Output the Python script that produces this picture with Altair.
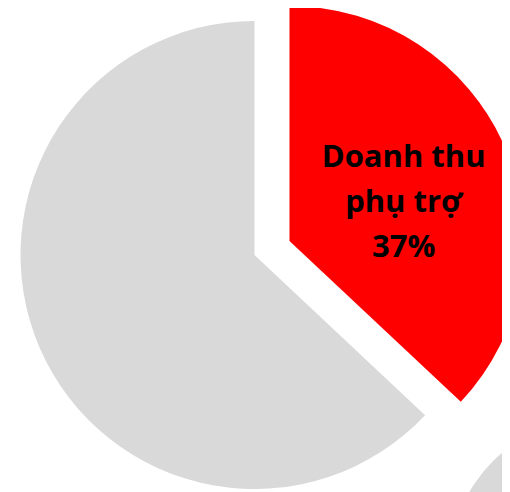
import altair as alt
import pandas as pd

# Data
categories = ["Doanh thu\nphụ trợ", "Khác"]
values = [37, 63]
order = [0, 1]
colors = ["#FF0000", "#D9D9D9"]

# partial neighbouring pie visible in the bottom-right corner
neighbor_values = [100]

df = pd.DataFrame({"category": categories, "value": values, "order": order})
df_nb = pd.DataFrame({"category": ["Khác"], "value": neighbor_values, "order": [0]})

color = alt.Color("category:N", scale=alt.Scale(domain=categories, range=colors), legend=None)


def angles(chart):
    return (
        chart.transform_joinaggregate(total="sum(value)")
        .transform_window(cum="sum(value)", sort=[alt.SortField("order")])
        .transform_calculate(
            t0="2*PI*(datum.cum - datum.value)/datum.total",
            t1="2*PI*datum.cum/datum.total",
            mid="PI*(2*datum.cum - datum.value)/datum.total",
        )
    )


base = angles(alt.Chart(df))

gray = base.transform_filter(alt.datum.order == 1).mark_arc(
    x=246.5, y=247, radius=234, stroke=None
).encode(
    theta=alt.Theta("t0:Q", scale=None),
    theta2="t1:Q",
    color=color,
)

red = base.transform_filter(alt.datum.order == 0).mark_arc(
    x=281.5, y=233, radius=235, stroke=None
).encode(
    theta=alt.Theta("t0:Q", scale=None),
    theta2="t1:Q",
    color=color,
)

label = base.transform_filter(alt.datum.order == 0).transform_calculate(
    label="datum.category + '\\n' + datum.value + '%'"
).mark_text(
    x=281.5, y=233, radius=120, dx=4, dy=-35,
    font="Open Sans", fontWeight="bold", fontSize=31, lineHeight=45,
    lineBreak="\n", align="center", baseline="middle", color="black",
).encode(
    theta=alt.Theta("mid:Q", scale=None),
    text="label:N",
)

neighbor = angles(alt.Chart(df_nb)).mark_arc(
    x=593, y=560, radius=152, stroke=None
).encode(
    theta=alt.Theta("t0:Q", scale=None),
    theta2="t1:Q",
    color=color,
)

chart = (
    alt.layer(gray, red, label, neighbor)
    .properties(width=494, height=484, padding=0, autosize=alt.AutoSizeParams(type="none"))
    .configure_view(stroke=None)
)

chart.save("out.html", embed_options={"renderer": "svg", "actions": False})
